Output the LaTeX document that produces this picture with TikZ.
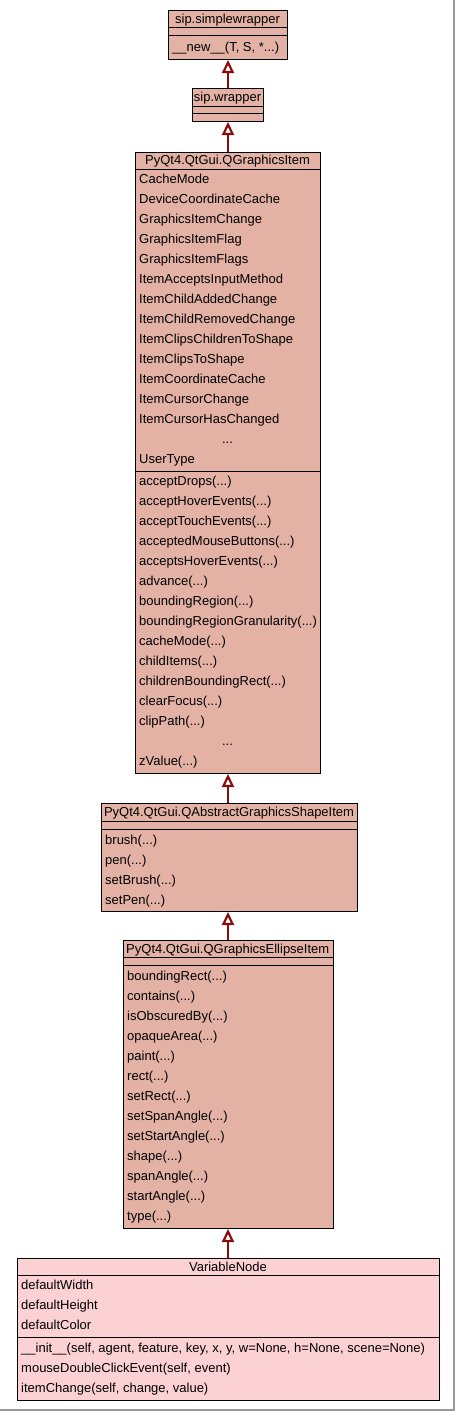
\documentclass[tikz,border=0pt]{standalone}
\usepackage{fontspec}
\setmainfont{Liberation Sans}
\usetikzlibrary{arrows.meta}
\definecolor{classfill}{RGB}{227,178,165}
\definecolor{mainfill}{RGB}{252,209,211}
\definecolor{edgered}{RGB}{139,10,10}
\newcommand{\margs}{(...)}

\begin{document}
\begin{tikzpicture}[x=1pt,y=-1pt,
    classbox/.style={draw=black,fill=#1,line width=1pt,inner sep=0pt,anchor=north west},
    classbox/.default=classfill,
    font=\fontsize{13}{15}\selectfont]

    \tikzstyle{member}=[anchor=base west,inner sep=0pt]
    \tikzstyle{ctitle}=[anchor=base,inner sep=0pt]
    \tikzstyle{sepline}=[draw=black,line width=1pt]
    \tikzstyle{inherit}=[draw=edgered,line width=2.2pt,-{Triangle[open,length=13pt,width=12pt]}]

    \useasboundingbox (0,0) rectangle (455,1411);
    \fill[white] (0,0) rectangle (455,1411);
    \draw[black!40,line width=1.5pt] (0,1410) -- (454,1410) -- (454,0);

    % sip.simplewrapper
    \node[classbox,minimum width=119pt,minimum height=49pt] (swrap) at (168,10) {};
    \node[ctitle] (swrap-t) at (227.5,23) {sip.simplewrapper};
    \draw[sepline] (swrap.west|-0,27.5) -- (swrap.east|-0,27.5);
    \draw[sepline] (swrap.west|-0,35) -- (swrap.east|-0,35);
    \node[member] (swrap-m0) at (172,51.5) {\_\_new\_\_(T, S, *...)};

    % sip.wrapper
    \node[classbox,minimum width=71pt,minimum height=33pt] (wrap) at (192,88) {};
    \node[ctitle] (wrap-t) at (227.5,101) {sip.wrapper};
    \draw[sepline] (wrap.west|-0,106) -- (wrap.east|-0,106);
    \draw[sepline] (wrap.west|-0,113.5) -- (wrap.east|-0,113.5);

    % QGraphicsItem
    \node[classbox,minimum width=185pt,minimum height=621pt] (gitem) at (135,152) {};
    \node[ctitle] (gitem-t) at (227.5,164) {PyQt4.QtGui.QGraphicsItem};
    \draw[sepline] (gitem.west|-0,169) -- (gitem.east|-0,169);
    \foreach \m [count=\i from 0] in {CacheMode,DeviceCoordinateCache,GraphicsItemChange,
        GraphicsItemFlag,GraphicsItemFlags,ItemAcceptsInputMethod,ItemChildAddedChange,
        ItemChildRemovedChange,ItemClipsChildrenToShape,ItemClipsToShape,
        ItemCoordinateCache,ItemCursorChange,ItemCursorHasChanged}
        \node[member] (gitem-a\i) at (139,{183+20*\i}) {\m};
    \node[ctitle] (gitem-adots) at (227.5,443) {...};
    \node[member] (gitem-a14) at (139,463) {UserType};
    \draw[sepline] (gitem.west|-0,471.5) -- (gitem.east|-0,471.5);
    \foreach \m [count=\i from 0] in {acceptDrops,acceptHoverEvents,
        acceptTouchEvents,acceptedMouseButtons,acceptsHoverEvents,
        advance,boundingRegion,boundingRegionGranularity,cacheMode,
        childItems,childrenBoundingRect,clearFocus,clipPath}
        \node[member] (gitem-m\i) at (139,{485.5+20*\i}) {\m\margs};
    \node[ctitle] (gitem-mdots) at (227.5,745.5) {...};
    \node[member] (gitem-m14) at (139,765.5) {zValue\margs};

    % QAbstractGraphicsShapeItem
    \node[classbox,minimum width=256pt,minimum height=108pt] (shape) at (101,803) {};
    \node[ctitle] (shape-t) at (229,816) {PyQt4.QtGui.QAbstractGraphicsShapeItem};
    \draw[sepline] (shape.west|-0,821) -- (shape.east|-0,821);
    \draw[sepline] (shape.west|-0,829) -- (shape.east|-0,829);
    \foreach \m [count=\i from 0] in {brush,pen,setBrush,setPen}
        \node[member] (shape-m\i) at (105,{844+20*\i}) {\m\margs};

    % QGraphicsEllipseItem
    \node[classbox,minimum width=209.5pt,minimum height=288pt] (ellipse) at (123,940) {};
    \node[ctitle] (ellipse-t) at (227.75,953) {PyQt4.QtGui.QGraphicsEllipseItem};
    \draw[sepline] (ellipse.west|-0,957.5) -- (ellipse.east|-0,957.5);
    \draw[sepline] (ellipse.west|-0,965) -- (ellipse.east|-0,965);
    \foreach \m [count=\i from 0] in {boundingRect,contains,isObscuredBy,
        opaqueArea,paint,rect,setRect,setSpanAngle,
        setStartAngle,shape,spanAngle,startAngle,type}
        \node[member] (ellipse-m\i) at (127,{980+20*\i}) {\m\margs};

    % VariableNode
    \node[classbox=mainfill,minimum width=422pt,minimum height=142pt] (vnode) at (17,1258) {};
    \node[ctitle] (vnode-t) at (228,1271) {VariableNode};
    \draw[sepline] (vnode.west|-0,1275) -- (vnode.east|-0,1275);
    \foreach \m [count=\i from 0] in {defaultWidth,defaultHeight,defaultColor}
        \node[member] (vnode-a\i) at (21,{1289+20*\i}) {\m};
    \draw[sepline] (vnode.west|-0,1337) -- (vnode.east|-0,1337);
    \foreach \m [count=\i from 0] in {{\_\_init\_\_(self, agent, feature, key, x, y, w=None, h=None, scene=None)},
        {mouseDoubleClickEvent(self, event)},{itemChange(self, change, value)}}
        \node[member] (vnode-m\i) at (21,{1352+20*\i}) {\m};

    % inheritance
    \draw[inherit] (swrap.south|-wrap.north) -- (swrap.south);
    \draw[inherit] (wrap.south|-gitem.north) -- (wrap.south);
    \draw[inherit] (gitem.south|-shape.north) -- (gitem.south);
    \draw[inherit] (gitem.south|-ellipse.north) -- (gitem.south|-shape.south);
    \draw[inherit] (gitem.south|-vnode.north) -- (gitem.south|-ellipse.south);

\end{tikzpicture}
\end{document}
